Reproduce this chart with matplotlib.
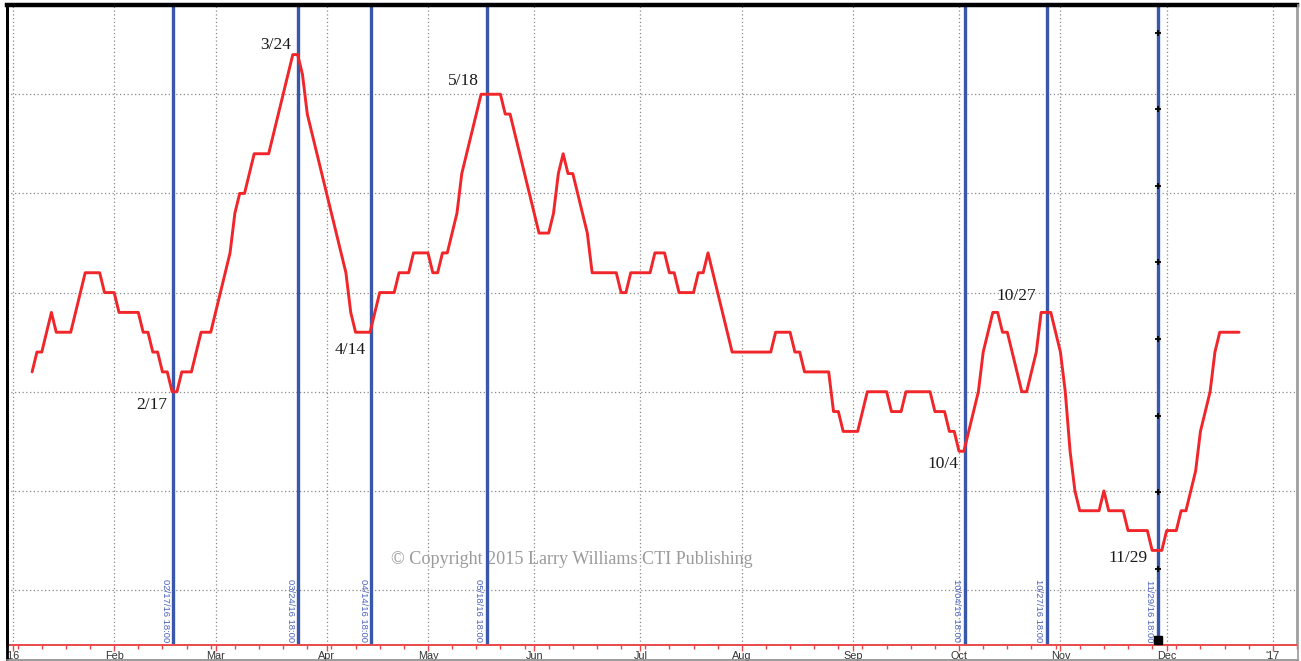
import numpy as np
import matplotlib
matplotlib.use("Agg")
import matplotlib.pyplot as plt
from matplotlib.lines import Line2D

# ---------------- data ----------------
line_dates = [
    "2016-01-07", "2016-01-08", "2016-01-11", "2016-01-13", "2016-01-14", "2016-01-19",
    "2016-01-22", "2016-01-27", "2016-01-28", "2016-02-01", "2016-02-02", "2016-02-08",
    "2016-02-09", "2016-02-10", "2016-02-11", "2016-02-12", "2016-02-15", "2016-02-16",
    "2016-02-17", "2016-02-18", "2016-02-19", "2016-02-23", "2016-02-25", "2016-02-29",
    "2016-03-04", "2016-03-07", "2016-03-08", "2016-03-09", "2016-03-11", "2016-03-16",
    "2016-03-23", "2016-03-24", "2016-03-25", "2016-03-28", "2016-04-07", "2016-04-08",
    "2016-04-11", "2016-04-14", "2016-04-18", "2016-04-21", "2016-04-22", "2016-04-26",
    "2016-04-27", "2016-05-02", "2016-05-03", "2016-05-04", "2016-05-05", "2016-05-06",
    "2016-05-10", "2016-05-11", "2016-05-17", "2016-05-23", "2016-05-24", "2016-05-25",
    "2016-06-02", "2016-06-06", "2016-06-07", "2016-06-08", "2016-06-09", "2016-06-10",
    "2016-06-13", "2016-06-16", "2016-06-17", "2016-06-24", "2016-06-27", "2016-06-28",
    "2016-06-29", "2016-07-05", "2016-07-06", "2016-07-08", "2016-07-11", "2016-07-12",
    "2016-07-13", "2016-07-18", "2016-07-19", "2016-07-20", "2016-07-21", "2016-07-28",
    "2016-08-09", "2016-08-10", "2016-08-15", "2016-08-16", "2016-08-17", "2016-08-18",
    "2016-08-25", "2016-08-26", "2016-08-29", "2016-08-30", "2016-09-02", "2016-09-06",
    "2016-09-12", "2016-09-13", "2016-09-15", "2016-09-16", "2016-09-23", "2016-09-26",
    "2016-09-28", "2016-09-29", "2016-09-30", "2016-10-03", "2016-10-04", "2016-10-07",
    "2016-10-10", "2016-10-12", "2016-10-13", "2016-10-14", "2016-10-17", "2016-10-20",
    "2016-10-21", "2016-10-24", "2016-10-25", "2016-10-26", "2016-10-28", "2016-10-31",
    "2016-11-01", "2016-11-02", "2016-11-03", "2016-11-04", "2016-11-07", "2016-11-11",
    "2016-11-14", "2016-11-15", "2016-11-18", "2016-11-21", "2016-11-25", "2016-11-28",
    "2016-11-30", "2016-12-01", "2016-12-05", "2016-12-06", "2016-12-07", "2016-12-09",
    "2016-12-12", "2016-12-14", "2016-12-15", "2016-12-16", "2016-12-22",
]
line_values = [
    16, 17, 17, 19, 18, 18,
    21, 21, 20, 20, 19, 19,
    18, 18, 17, 17, 16, 16,
    15, 15, 16, 16, 18, 18,
    22, 24, 25, 25, 27, 27,
    32, 32, 31, 29, 21, 19,
    18, 18, 20, 20, 21, 21,
    22, 22, 21, 21, 22, 22,
    24, 26, 30, 30, 29, 29,
    23, 23, 24, 26, 27, 26,
    26, 23, 21, 21, 20, 20,
    21, 21, 22, 22, 21, 21,
    20, 20, 21, 21, 22, 17,
    17, 18, 18, 17, 17, 16,
    16, 14, 14, 13, 13, 15,
    15, 14, 14, 15, 15, 14,
    14, 13, 13, 12, 12, 15,
    17, 19, 19, 18, 18, 15,
    15, 16, 17, 19, 19, 18,
    17, 15, 12, 10, 9, 9,
    10, 9, 9, 8, 8, 7,
    7, 8, 8, 9, 9, 11,
    13, 15, 17, 18, 18,
]

turn_dates = ["2016-02-17", "2016-03-24", "2016-04-14", "2016-05-18",
              "2016-10-04", "2016-10-27", "2016-11-29"]
turn_values = [15, 32, 18, 30, 12, 19, 7]
turn_labels = ["2/17", "3/24", "4/14", "5/18", "10/4", "10/27", "11/29"]
stamp_labels = ["02/17/16 18:00", "03/24/16 18:00", "04/14/16 18:00", "05/18/16 18:00",
                "10/04/16 18:00", "10/27/16 18:00", "11/29/16 18:00"]

month_starts = ["2016-01-01", "2016-02-01", "2016-03-01", "2016-04-01", "2016-05-01",
                "2016-06-01", "2016-07-01", "2016-08-01", "2016-09-01", "2016-10-01",
                "2016-11-01", "2016-12-01", "2017-01-01"]
month_labels = ["'16", "Feb", "Mar", "Apr", "May", "Jun", "Jul", "Aug", "Sep", "Oct",
                "Nov", "Dec", "'17"]

marker_levels = [33.07, 29.24, 25.36, 21.53, 17.65, 13.77, 9.94, 6.06]
grid_levels = [5, 10, 15, 20, 25, 30]
copyright_text = "\u00a9 Copyright 2015 Larry Williams CTI Publishing"

# ---------------- helpers ----------------
ORIGIN = "2016-01-01"


def bday(dates):
    return np.busday_count(ORIGIN, np.array(dates, dtype="datetime64[D]")).astype(float)


W, H = 1301, 661
fig = plt.figure(figsize=(W / 100, H / 100), dpi=100)
ax = fig.add_axes([7 / W, 16 / H, 1290 / W, 640 / H])

x_line = bday(line_dates)
x_turn = bday(turn_dates)
x_month = bday(month_starts)
last_monday = np.busday_count(ORIGIN, "2017-01-16")
x_minor = np.arange(1, last_monday, 5)

ax.set_xlim(-1.2, 266)
ax.set_ylim(2.23, 34.5)

# grid
grid_kw = dict(color="#8a8a8a", lw=0.9, ls=(0, (1, 2)), zorder=0)
for g in grid_levels:
    ax.axhline(g, **grid_kw)
for xm in x_month:
    ax.axvline(xm, **grid_kw)

# blue vertical lines
blue = "#3a58ab"
for xt in x_turn:
    ax.axvline(xt + 0.15, color=blue, lw=2.4, zorder=2)

# red line
ax.plot(x_line, line_values, color="#f0262a", lw=2.1, zorder=3,
        solid_joinstyle="round", solid_capstyle="round")

# markers on last vertical line
ax.plot([x_turn[-1] + 0.15] * len(marker_levels), marker_levels, ls="none", marker="+",
        ms=4, mew=1.3, color="black", zorder=4)
ax.plot([x_turn[-1] + 0.15], [2.48], ls="none", marker="s", ms=6, color="black", zorder=4,
        clip_on=False)

# turning point labels (offsets in pixels)
offsets_px = [(-20, -13), (-22, 10), (-20, -18), (-23, 13), (-21, -13), (-30, 16), (-29, -8)]
for xt, yt, lab, (dx, dy) in zip(x_turn, turn_values, turn_labels, offsets_px):
    ax.annotate(lab, (xt, yt), xytext=(dx * 0.72, dy * 0.72), textcoords="offset points",
                ha="center", va="center", fontsize=12.5, family="Liberation Serif",
                color="#1a1a1a", zorder=5)

# vertical time stamps
for xt, lab in zip(x_turn, stamp_labels):
    ax.annotate(lab, (xt, 2.23), xytext=(-2.5 * 0.72, 3 * 0.72), textcoords="offset points",
                rotation=-90, ha="right", va="bottom", fontsize=6.8,
                family="Liberation Sans", color="#4a62bf", zorder=5)

# copyright
ax.text(0.4380, 0.133, copyright_text, transform=ax.transAxes, ha="center", va="center",
        fontsize=13.1, family="Liberation Serif", color="#9a9a9a", zorder=1)

# axes styling
ax.set_yticks([])
ax.set_xticks(x_month)
ax.set_xticklabels(month_labels, fontsize=7.8, family="Liberation Sans", color="#333333")
ax.set_xticks(x_minor, minor=True)
ax.tick_params(axis="x", which="major", direction="out", length=4, width=1,
               color="#e84a4a", pad=0.5)
ax.tick_params(axis="x", which="minor", direction="out", length=3, width=1,
               color="#e84a4a")

ax.spines["bottom"].set_color("#e84a4a")
ax.spines["bottom"].set_linewidth(1.4)
ax.spines["top"].set_color("black")
ax.spines["top"].set_linewidth(3.2)
ax.spines["left"].set_color("black")
ax.spines["left"].set_linewidth(2.0)
ax.spines["right"].set_color("#9a9a9a")
ax.spines["right"].set_linewidth(1.2)

# outer frame lines extending to figure edge
fig.add_artist(Line2D([7 / W, 7 / W], [0.5 / H, 1 - 5 / H], color="black", lw=2.0))
fig.add_artist(Line2D([7 / W, 1298 / W], [1.0 / H, 1.0 / H], color="#8a8a8a", lw=1.2))
fig.add_artist(Line2D([1298 / W, 1298 / W], [0, 1 - 5 / H], color="#9a9a9a", lw=1.2))

fig.savefig("out.png", dpi=100)
